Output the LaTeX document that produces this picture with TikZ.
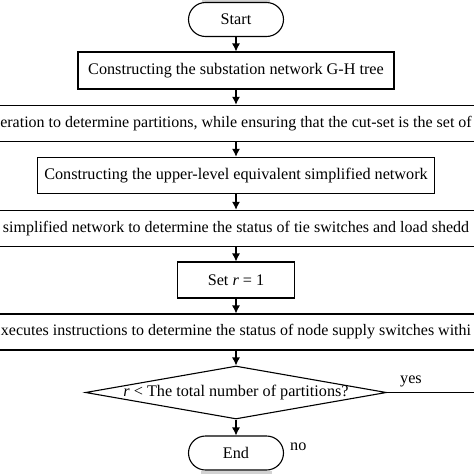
\documentclass[tikz,border=0pt]{standalone}
\usepackage{fontspec}
\setmainfont{Liberation Serif}
\usetikzlibrary{arrows.meta,shapes.geometric}

\tikzset{
	box/.style={draw, line width=1.1pt, inner sep=0pt, minimum height=36pt},
	widebox/.style={box, minimum width=520pt, font=\fontsize{16}{19}\selectfont},
	term/.style={box, rounded corners=17pt, minimum width=95pt, minimum height=34pt},
	decision/.style={draw, line width=1.1pt, diamond, inner sep=0pt, minimum width=301pt, minimum height=53pt},
	flow/.style={line width=1.1pt, -{Latex[length=8pt,width=8pt]}}
}

\begin{document}
\begin{tikzpicture}[x=1pt,y=-1pt,font=\fontsize{16.2}{19}\selectfont]
	\useasboundingbox (0,0) rectangle (474,474);
	\clip (0,0) rectangle (474,474);
	\def\cx{236}
	\fill[gray!35] (202,0) rectangle (270,1.5);
	\fill[gray!35] (201,471) rectangle (272,474);
	\node[term] (start) at (\cx,19.5) {Start};
	\node[box, minimum width=316pt, minimum height=37pt] (gh) at (\cx,70.5) {Constructing the substation network G-H tree};
	\node[widebox] (part) at (\cx,123.3) {eration to determine partitions, while ensuring that the cut-set is the set of};
	\node[box, minimum width=397pt] (upper) at (\cx,175.3) {Constructing the upper-level equivalent simplified network};
	\node[widebox] (tie) at (\cx,228.3) {simplified network to determine the status of tie switches and load shedd};
	\node[box, minimum width=117pt] (setr) at (\cx,280) {Set \textit{r} = 1};
	\node[widebox] (supply) at (\cx,332) {xecutes instructions to determine the status of node supply switches withi};
	\node[decision] (dec) at (\cx,392.5) {};
	\node (dectext) at (\cx,392.5) {\textit{r} < The total number of partitions?};
	\node[term] (stop) at (\cx,453) {End};
	\coordinate (yesend) at (480,392.5);
	\draw[flow] (start) -- (gh);
	\draw[flow] (gh) -- (part);
	\draw[flow] (part) -- (upper);
	\draw[flow] (upper) -- (tie);
	\draw[flow] (tie) -- (setr);
	\draw[flow] (setr) -- (supply);
	\draw[flow] (supply) -- (dec);
	\draw[flow] (dec) -- (stop);
	\draw[line width=1.1pt] (dec.east) -- (yesend);
	\node[anchor=south west, inner sep=0pt] (yes) at (400,387) {yes};
	\node[anchor=west, inner sep=0pt] (no) at (290,447) {no};
\end{tikzpicture}
\end{document}
